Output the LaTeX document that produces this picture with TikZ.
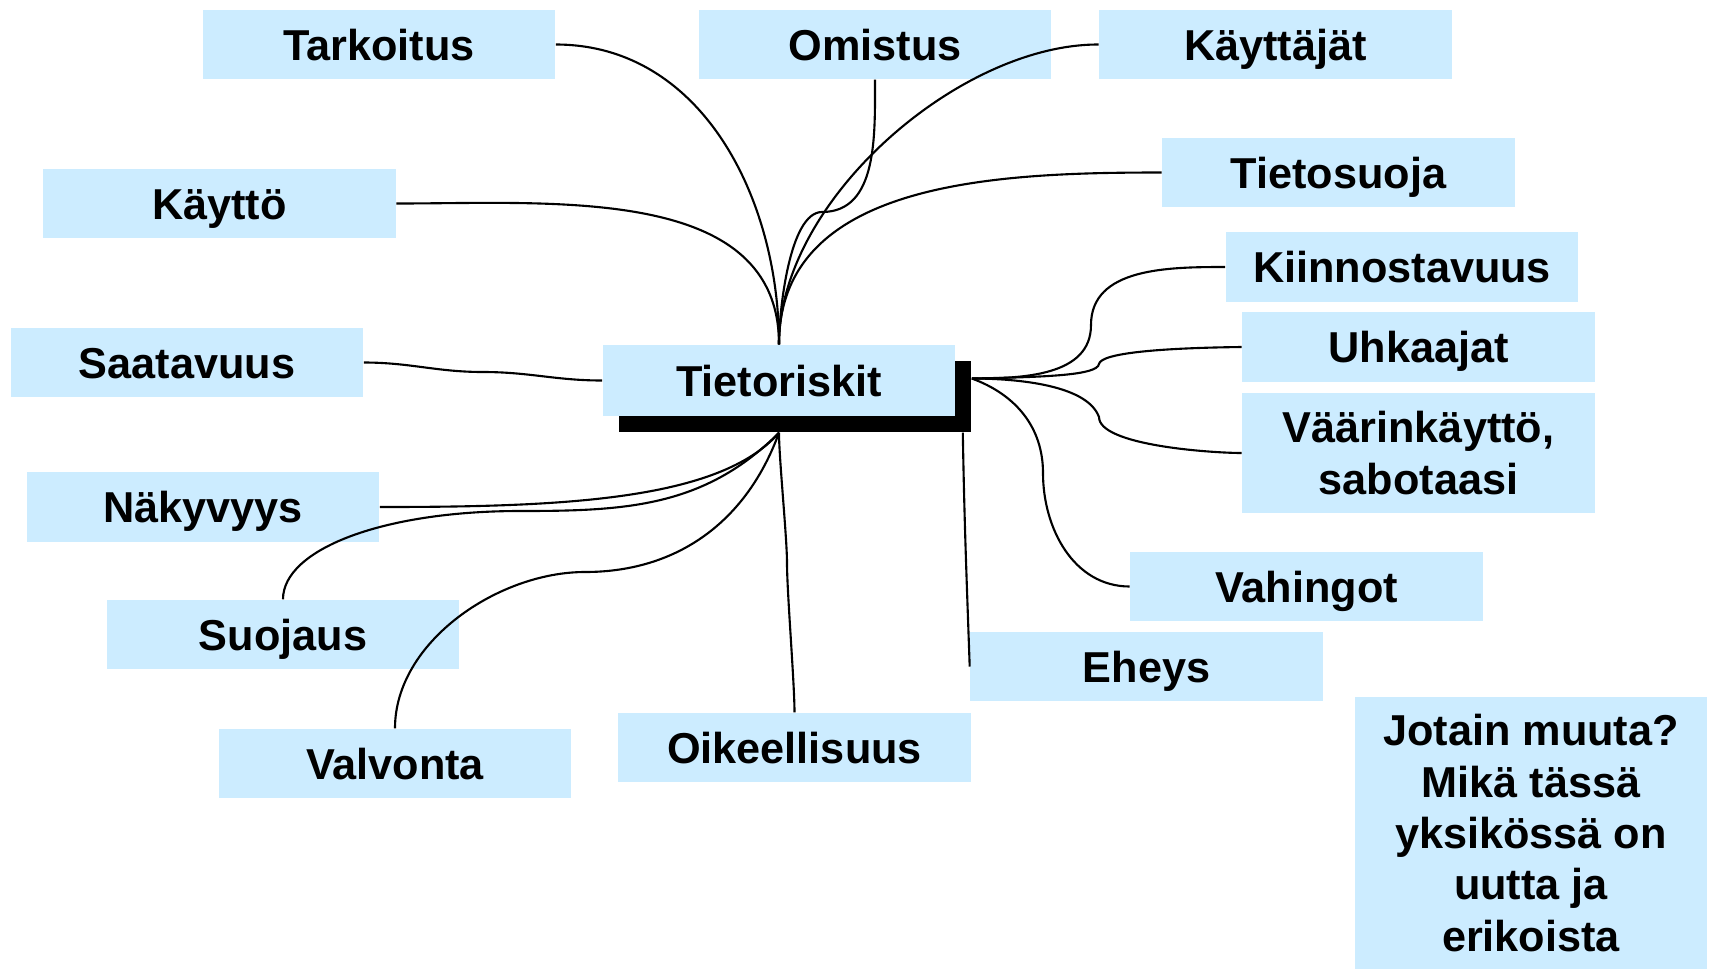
\documentclass[tikz,border=0pt]{standalone}
\usepackage{fontspec}
\setmainfont{Liberation Sans}
\usetikzlibrary{calc, shadows}
\definecolor{boxblue}{HTML}{CCECFF}

\begin{document}
\begin{tikzpicture}[x=0.01cm, y=-0.01cm,
        box/.style={fill=boxblue, inner sep=0pt, minimum width=3.52cm, minimum height=0.69cm,
            align=center, text height=0.31cm, text depth=0pt,
            font=\fontsize{12.3}{14.6}\selectfont\bfseries},
        tallbox/.style={box, text height=, text depth=},
        link/.style={line width=0.6pt}]
        \useasboundingbox (0,0) rectangle (1714,969);

        \node[box, minimum height=0.71cm,
              drop shadow={shadow xshift=0.16cm, shadow yshift=-0.16cm, fill=black, opacity=1}]
              (tr) at (779,380.5) {Tietoriskit};

        \node[box] (tark) at (379,44.5) {Tarkoitus};
        \node[box] (omis) at (875,44.5) {Omistus};
        \node[box] (kayj) at (1275.5,44.5) {Käyttäjät};
        \node[box] (tiet) at (1338.5,172.5) {Tietosuoja};
        \node[box] (kayt) at (219.5,203.5) {Käyttö};
        \node[box] (kiin) at (1402,267) {Kiinnostavuus};
        \node[box] (uhka) at (1418.5,347) {Uhkaajat};
        \node[tallbox, minimum height=1.2cm] (vaar) at (1418.5,453) {Väärinkäyttö,\\sabotaasi};
        \node[box] (saat) at (187,362.5) {Saatavuus};
        \node[box] (naky) at (203,507) {Näkyvyys};
        \node[box] (suoj) at (283,634.5) {Suojaus};
        \node[box] (valv) at (395,763.5) {Valvonta};
        \node[box] (oike) at (794.5,747.5) {Oikeellisuus};
        \node[box] (ehey) at (1146.5,666.5) {Eheys};
        \node[box] (vahi) at (1306.5,586.5) {Vahingot};
        \node[tallbox, minimum height=2.72cm] (muut) at (1531,833)
              {Jotain muuta?\\Mikä tässä\\yksikössä on\\uutta ja\\erikoista};

        % varjon reunat
        \coordinate (B) at ($(tr.south)+(0,16)$);
        \coordinate (E) at ($(tr.east)+(16,-2)$);
        \coordinate (S) at ($(tr.south east)+(7,16)$);

        \begin{scope}[link]
            % ylos
            \draw (tark.east) to[out=0,in=90] (tr.north);
            \draw (omis.south) to[out=-90,in=0] (822,212) to[out=180,in=90,looseness=0.6] (tr.north);
            \draw (kayj.west) .. controls (960,44) and (779,200) .. (tr.north);
            \draw (tiet.west) to[out=180,in=90] (tr.north);
            \draw (kayt.east) to[out=0,in=90] (tr.north);
            % vasen
            \draw (saat.east) to[out=0,in=180] (483,372) to[out=0,in=180] (tr.west);
            % alas
            \draw (naky.east) to[out=0,in=-131,out looseness=1.13,in looseness=0.57] (B);
            \draw (suoj.north) to[out=90,in=180,out looseness=0.5,in looseness=1.4] (520,511)
                               to[out=0,in=-135] (B);
            \draw (valv.north) to[out=90,in=180,looseness=0.9] (585,572) to[out=0,in=-110] (B);
            \draw (oike.north) to[out=90,in=-90,looseness=0.5] (787,563) to[out=90,in=-90,looseness=0.5] (B);
            % oikea
            \draw (E) to[out=0,in=-90] (1091,325) to[out=90,in=180] (kiin.west);
            \draw (E) .. controls (1050,377) and (1097,375) .. (1099,364)
                      .. controls (1101,353) and (1160,348) .. (uhka.west);
            \draw (E) to[out=0,in=110,looseness=0.7] (1099,417) to[out=-90,in=180,looseness=0.5] (vaar.west);
            \draw (E) to[out=-20,in=90] (1043,473) to[out=-90,in=180] (vahi.west);
            \draw (S) to[out=-89,in=92] (ehey.west);
        \end{scope}
    \end{tikzpicture}
\end{document}
